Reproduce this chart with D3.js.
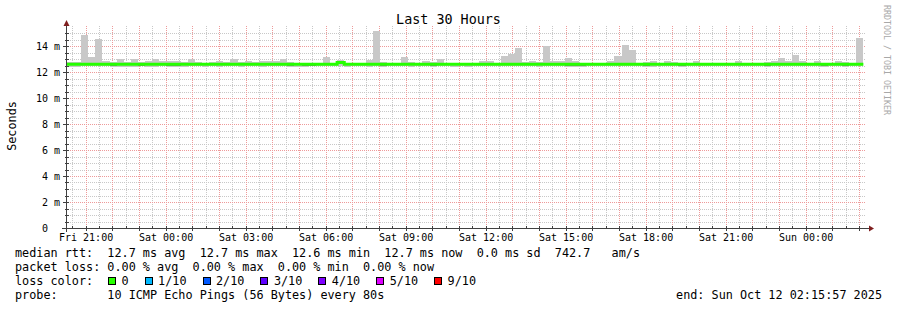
<!DOCTYPE html>
<html>
<head>
<meta charset="utf-8">
<script src="https://cdn.jsdelivr.net/npm/d3@7"></script>
<style>
  body { margin: 0; background: #fff; }
  text { font-family: "DejaVu Sans Mono", monospace; fill: #000; white-space: pre; }
</style>
</head>
<body>
<script>
// time window of the graph and the 16 minute consolidation buckets
const startTime = new Date(2025, 9, 10, 20, 15, 57),
      endTime = new Date(2025, 9, 12, 2, 15, 57),
      firstBucket = new Date(2025, 9, 10, 20, 18, 0),
      bucketMinutes = 16;

// top of the smoke per bucket (ms)
const smokeHigh = [
  12.77, 12.77, 14.85, 13.15, 14.56, 12.87, 12.75, 13.03, 12.77, 13.03,
  12.77, 12.87, 13.03, 12.87, 12.87, 12.87, 12.77, 13.03, 12.77, 12.72,
  12.77, 12.87, 12.77, 12.97, 12.77, 12.87, 12.77, 12.87, 12.87, 12.85,
  13.03, 12.77, 12.72, 12.67, 12.67, 12.67, 13.15, 12.72, 12.92, 12.72,
  12.72, 12.72, 12.92, 15.15, 12.77, 12.67, 12.72, 13.15, 12.77, 12.72,
  12.85, 12.77, 12.97, 12.72, 12.72, 12.72, 12.72, 12.72, 12.85, 12.85,
  12.72, 13.23, 13.38, 13.85, 12.77, 12.85, 12.77, 14.00, 12.85, 12.85,
  13.08, 12.85, 12.72, 12.72, 12.72, 12.72, 12.85, 13.23, 14.05, 13.69,
  12.72, 12.77, 12.85, 12.72, 12.85, 12.77, 12.72, 12.72, 12.85, 12.72,
  12.72, 12.72, 12.72, 12.72, 12.85, 12.72, 12.67, 12.72, 12.77, 12.85,
  13.08, 12.85, 13.30, 12.85, 12.72, 12.85, 12.72, 12.72, 12.85, 12.77,
  12.72, 14.62
];

// bottom of the smoke per bucket (ms)
const smokeLow = [
  12.42, 12.42, 12.45, 12.45, 12.45, 12.45, 12.40, 12.42, 12.42, 12.42,
  12.45, 12.42, 12.42, 12.45, 12.42, 12.42, 12.42, 12.45, 12.45, 12.42,
  12.45, 12.42, 12.45, 12.45, 12.42, 12.45, 12.45, 12.42, 12.45, 12.45,
  12.45, 12.42, 12.42, 12.42, 12.45, 12.45, 12.45, 12.45, 12.45, 12.42,
  12.45, 12.45, 12.42, 12.45, 12.42, 12.45, 12.45, 12.45, 12.42, 12.45,
  12.45, 12.42, 12.45, 12.45, 12.42, 12.45, 12.42, 12.45, 12.45, 12.45,
  12.45, 12.45, 12.45, 12.45, 12.45, 12.45, 12.42, 12.45, 12.45, 12.45,
  12.42, 12.42, 12.42, 12.45, 12.45, 12.45, 12.45, 12.45, 12.45, 12.45,
  12.45, 12.42, 12.42, 12.45, 12.45, 12.45, 12.42, 12.45, 12.45, 12.45,
  12.45, 12.45, 12.45, 12.45, 12.45, 12.45, 12.45, 12.45, 12.42, 12.45,
  12.45, 12.45, 12.45, 12.45, 12.45, 12.45, 12.42, 12.45, 12.45, 12.42,
  12.45, 12.45
];

// buckets where a darker inner smoke layer shows under the median (ms, null = none)
const innerLow = [
  null, null, null, null, null, null, 12.45, null, null, null,
  12.47, null, null, null, 12.47, 12.47, null, null, null, null,
  null, null, null, null, null, null, null, null, null, null,
  null, 12.47, null, 12.47, 12.47, null, null, null, null, null,
  null, null, null, null, 12.45, null, null, null, null, null,
  null, 12.47, null, null, null, null, null, null, null, null,
  null, null, null, null, null, null, null, null, null, null,
  12.47, 12.47, 12.47, null, null, null, null, null, null, null,
  null, 12.47, null, null, null, null, 12.47, null, null, null,
  null, null, null, null, null, null, null, null, 12.45, null,
  null, null, null, null, null, null, 12.47, null, null, 12.47,
  null, null
];

// median rtt per bucket (ms)
const medianRtt = [
  12.6, 12.6, 12.6, 12.6, 12.6, 12.6, 12.6, 12.6, 12.6, 12.6,
  12.6, 12.6, 12.6, 12.6, 12.6, 12.6, 12.6, 12.6, 12.6, 12.6,
  12.6, 12.6, 12.6, 12.6, 12.6, 12.6, 12.6, 12.6, 12.6, 12.6,
  12.6, 12.6, 12.6, 12.6, 12.6, 12.6, 12.6, 12.6, 12.74, 12.6,
  12.6, 12.6, 12.6, 12.6, 12.6, 12.6, 12.6, 12.6, 12.6, 12.6,
  12.6, 12.6, 12.6, 12.6, 12.6, 12.6, 12.6, 12.6, 12.6, 12.6,
  12.6, 12.6, 12.6, 12.6, 12.6, 12.6, 12.6, 12.6, 12.6, 12.6,
  12.6, 12.6, 12.6, 12.6, 12.6, 12.6, 12.6, 12.6, 12.6, 12.6,
  12.6, 12.6, 12.6, 12.6, 12.6, 12.6, 12.6, 12.6, 12.6, 12.6,
  12.6, 12.6, 12.6, 12.6, 12.6, 12.6, 12.6, 12.6, 12.6, 12.6,
  12.6, 12.6, 12.6, 12.6, 12.6, 12.6, 12.6, 12.6, 12.6, 12.6,
  12.6, 12.6
];

const yLabelValues = [0, 2, 4, 6, 8, 10, 12, 14];

const lossLabels = ['0', '1/10', '2/10', '3/10', '4/10', '5/10', '9/10'],
      lossColors = ['#26ff00', '#00b8ff', '#0059ff', '#5e00ff', '#7e00ff', '#dd00ff', '#ff0000'];

const legendLines = [
  'median rtt:  12.7 ms avg  12.7 ms max  12.6 ms min  12.7 ms now  0.0 ms sd  742.7   am/s',
  'packet loss: 0.00 % avg  0.00 % max  0.00 % min  0.00 % now',
  'loss color:',
  'probe:       10 ICMP Echo Pings (56 Bytes) every 80s'
];
const endLabel = 'end: Sun Oct 12 02:15:57 2025';

const width = 897,
      height = 310,
      plot = { left: 66, right: 866, top: 26.5, bottom: 228 },
      charW = 7.1;

const bucketStarts = smokeHigh.map((d, i) => d3.timeMinute.offset(firstBucket, i * bucketMinutes));
const bucketEnd = i => d3.timeMinute.offset(firstBucket, (i + 1) * bucketMinutes);

const xScale = d3.scaleTime().domain([startTime, endTime]).range([plot.left, plot.right]),
      yScale = d3.scaleLinear().domain([0, 15.5]).range([plot.bottom, plot.top]);

const svg = d3.select('body').append('svg')
              .attr('width', width)
              .attr('height', height)
              .attr('xml:space', 'preserve');

svg.append('defs').append('clipPath').attr('id', 'plot-clip')
   .append('rect')
   .attr('x', plot.left).attr('y', 0)
   .attr('width', plot.right - plot.left).attr('height', plot.bottom);

// grid
const grid = svg.append('g').attr('shape-rendering', 'crispEdges');
const minorY = d3.range(0.5, 15.5, 0.5).filter(v => v % 2 !== 0),
      majorY = yLabelValues.filter(v => v > 0);
const minorX = d3.timeMinute.every(30).range(startTime, endTime).filter(t => t.getMinutes() !== 0),
      majorX = d3.timeHour.every(1).range(startTime, endTime);

grid.selectAll('.hminor').data(minorY).enter().append('line')
    .attr('x1', plot.left).attr('x2', plot.right)
    .attr('y1', d => Math.round(yScale(d)) + 0.5).attr('y2', d => Math.round(yScale(d)) + 0.5)
    .attr('stroke', '#c8c8c8').attr('stroke-dasharray', '1,1');
grid.selectAll('.vminor').data(minorX).enter().append('line')
    .attr('x1', d => Math.round(xScale(d)) + 0.5).attr('x2', d => Math.round(xScale(d)) + 0.5)
    .attr('y1', plot.top - 1).attr('y2', plot.bottom)
    .attr('stroke', '#c8c8c8').attr('stroke-dasharray', '1,1');
grid.selectAll('.hmajor').data(majorY).enter().append('line')
    .attr('x1', plot.left).attr('x2', plot.right)
    .attr('y1', d => Math.round(yScale(d)) + 0.5).attr('y2', d => Math.round(yScale(d)) + 0.5)
    .attr('stroke', '#ee9a9a').attr('stroke-dasharray', '1,1');
grid.selectAll('.vmajor').data(majorX).enter().append('line')
    .attr('x1', d => Math.round(xScale(d)) + 0.5).attr('x2', d => Math.round(xScale(d)) + 0.5)
    .attr('y1', plot.top - 1).attr('y2', plot.bottom)
    .attr('stroke', '#ee9a9a').attr('stroke-dasharray', '1,1');

// smoke
const marks = svg.append('g').attr('clip-path', 'url(#plot-clip)');
marks.selectAll('.smoke').data(smokeHigh).enter().append('rect')
     .attr('x', (d, i) => xScale(bucketStarts[i]))
     .attr('width', (d, i) => xScale(bucketEnd(i)) - xScale(bucketStarts[i]))
     .attr('y', d => yScale(d))
     .attr('height', (d, i) => yScale(smokeLow[i]) - yScale(d))
     .attr('fill', '#c8c8c8')
     .attr('shape-rendering', 'crispEdges');

marks.selectAll('.inner').data(innerLow.map((d, i) => [d, i]).filter(p => p[0] !== null)).enter().append('rect')
     .attr('x', p => xScale(bucketStarts[p[1]]))
     .attr('width', p => xScale(bucketEnd(p[1])) - xScale(bucketStarts[p[1]]))
     .attr('y', p => yScale(medianRtt[p[1]]))
     .attr('height', p => yScale(p[0]) - yScale(medianRtt[p[1]]))
     .attr('fill', '#808080')
     .attr('shape-rendering', 'crispEdges');

// median line
const medianPoints = medianRtt.map((v, i) => [bucketStarts[i], v]);
medianPoints.push([bucketEnd(medianRtt.length - 1), medianRtt[medianRtt.length - 1]]);
marks.append('path')
     .datum(medianPoints)
     .attr('fill', 'none')
     .attr('stroke', '#26ff00')
     .attr('stroke-width', 3)
     .attr('d', d3.line().x(p => xScale(p[0])).y(p => yScale(p[1])).curve(d3.curveStepAfter));

// axes lines, ticks and arrows
const axisColor = '#404040',
      arrowColor = '#7f1f1f';
const axes = svg.append('g').attr('shape-rendering', 'crispEdges');
axes.append('line')
    .attr('x1', plot.left - 4).attr('x2', plot.right + 4)
    .attr('y1', plot.bottom + 0.5).attr('y2', plot.bottom + 0.5)
    .attr('stroke', axisColor);
axes.append('line')
    .attr('x1', plot.left + 0.5).attr('x2', plot.left + 0.5)
    .attr('y1', plot.bottom + 4).attr('y2', plot.top - 4)
    .attr('stroke', axisColor);
axes.selectAll('.ytick').data(minorY.concat(majorY)).enter().append('line')
    .attr('x1', d => majorY.includes(d) ? plot.left - 3 : plot.left - 1).attr('x2', plot.left + 3)
    .attr('y1', d => Math.round(yScale(d)) + 0.5).attr('y2', d => Math.round(yScale(d)) + 0.5)
    .attr('stroke', axisColor);
axes.selectAll('.xtick').data(minorX.concat(majorX)).enter().append('line')
    .attr('x1', d => Math.round(xScale(d)) + 0.5).attr('x2', d => Math.round(xScale(d)) + 0.5)
    .attr('y1', plot.bottom - 2).attr('y2', d => d.getMinutes() === 0 ? plot.bottom + 3 : plot.bottom + 1)
    .attr('stroke', axisColor);

svg.append('path')
   .attr('d', 'M' + (plot.left + 0.5) + ',' + (plot.top - 6.5) + 'L' + (plot.left + 3.5) + ',' + (plot.top - 0.5) +
              'L' + (plot.left - 2.5) + ',' + (plot.top - 0.5) + 'Z')
   .attr('fill', arrowColor);
svg.append('path')
   .attr('d', 'M' + (plot.right + 8) + ',' + (plot.bottom + 0.5) + 'L' + (plot.right + 3) + ',' + (plot.bottom - 2.5) +
              'L' + (plot.right + 3) + ',' + (plot.bottom + 3.5) + 'Z')
   .attr('fill', arrowColor);

// axis labels
const xAxis = d3.axisBottom(xScale)
                .tickValues(d3.timeHour.every(3).range(startTime, endTime))
                .tickFormat(d3.timeFormat('%a %H:%M'))
                .tickSize(0).tickPadding(0);
const xg = svg.append('g').attr('transform', 'translate(0,' + plot.bottom + ')').call(xAxis);
xg.select('.domain').remove();
xg.selectAll('text').attr('y', 13).attr('dy', 0)
  .style('font-family', '"DejaVu Sans Mono", monospace').style('font-size', '10px').attr('fill', '#000');

const yAxis = d3.axisLeft(yScale)
                .tickValues(yLabelValues)
                .tickFormat(d => d === 0 ? '0  ' : d + ' m')
                .tickSize(0).tickPadding(0);
const yg = svg.append('g').attr('transform', 'translate(60,0.5)').call(yAxis);
yg.select('.domain').remove();
yg.selectAll('text').attr('dy', '0.34em')
  .style('font-family', '"DejaVu Sans Mono", monospace').style('font-size', '10px').attr('fill', '#000');

svg.append('text')
   .attr('transform', 'translate(16,126) rotate(-90)')
   .attr('text-anchor', 'middle')
   .style('font-size', '11.8px')
   .text('Seconds');

svg.append('text')
   .attr('x', width / 2).attr('y', 24)
   .attr('text-anchor', 'middle')
   .style('font-size', '13.4px')
   .text('Last 30 Hours');

svg.append('text')
   .attr('transform', 'translate(884,5) rotate(90)')
   .style('font-size', '8.3px')
   .style('fill', '#a8a8a8')
   .text('RRDTOOL / TOBI OETIKER');

// legend rows
const rowBase = [257, 271, 285, 299];
svg.selectAll('.legend-line').data(legendLines).enter().append('text')
   .attr('x', 15)
   .attr('y', (d, i) => rowBase[i])
   .style('font-size', '11.8px')
   .text(d => d);

svg.append('text')
   .attr('x', 882).attr('y', rowBase[3])
   .attr('text-anchor', 'end')
   .style('font-size', '11.8px')
   .text(endLabel);

let lossX = 15 + 15 * charW;
const lossItems = lossLabels.map((label, i) => {
  const item = { label: label, color: lossColors[i], x: lossX };
  lossX += label.length * charW + 29.5;
  return item;
});
const lossG = svg.selectAll('.loss').data(lossItems).enter().append('g');
lossG.append('rect')
     .attr('x', d => Math.round(d.x - 13.5) + 0.5)
     .attr('y', rowBase[2] - 7.5)
     .attr('width', 7).attr('height', 7)
     .attr('fill', d => d.color)
     .attr('stroke', '#000')
     .attr('shape-rendering', 'crispEdges');
lossG.append('text')
     .attr('x', d => d.x)
     .attr('y', rowBase[2])
     .style('font-size', '11.8px')
     .text(d => d.label);
</script>
</body>
</html>
